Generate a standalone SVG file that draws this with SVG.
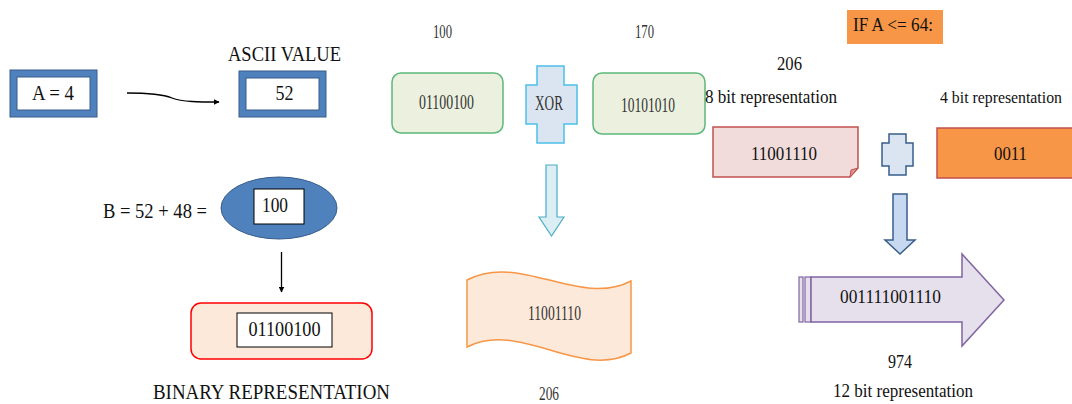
<svg xmlns="http://www.w3.org/2000/svg" width="1072" height="404" viewBox="0 0 1072 404">
<defs>
<style>
text{font-family:"Liberation Serif","Times New Roman",serif;fill:#111;}
.m{text-anchor:middle;}
.g{fill:#333;}
.frame{fill:#4f81bd;stroke:#385d8a;stroke-width:1;}
.inner{fill:#fff;stroke:#385d8a;stroke-width:1;}
.box{fill:#fff;stroke:#000;stroke-width:1;}
.green{fill:#ebf1de;stroke:#5cb87a;stroke-width:1.5;}
.line{fill:none;stroke:#000;stroke-width:1.3;}
</style>
<marker id="ah" viewBox="0 0 10 10" refX="9" refY="5" markerWidth="6" markerHeight="6" orient="auto" markerUnits="userSpaceOnUse">
<path d="M0,0 L10,5 L0,10 Z" fill="#000"/>
</marker>
</defs>
<rect width="1072" height="404" fill="#fff"/>

<g id="connectors">
<path class="line" d="M127,93 C150,93 162,94 172,98 C182,102 200,102 219,102" marker-end="url(#ah)"/>
<line class="line" x1="281.5" y1="252" x2="281.5" y2="292" marker-end="url(#ah)"/>
<polygon points="546,165 557,165 557,217 564,217 551.5,236 539,217 546,217" fill="#daeef3" stroke="#4bacc6" stroke-width="1.2"/>
<polygon points="893,194 907,194 907,240 915,240 900,254 885,240 893,240" fill="#c6d9f1" stroke="#385d8a" stroke-width="1.5"/>
</g>

<g id="ascii-label"><text class="m" x="284.5" y="61" font-size="21" textLength="113" lengthAdjust="spacingAndGlyphs">ASCII VALUE</text></g>

<g id="node-a">
<rect class="frame" x="10" y="70" width="87" height="47"/>
<rect class="inner" x="17" y="77" width="73" height="33"/>
<text class="m" x="53" y="100" font-size="21" textLength="42" lengthAdjust="spacingAndGlyphs">A = 4</text>
</g>

<g id="node-52">
<rect class="frame" x="239" y="71" width="87" height="46"/>
<rect class="inner" x="246" y="78" width="73" height="32"/>
<text class="m" x="284.5" y="100" font-size="21" textLength="18" lengthAdjust="spacingAndGlyphs">52</text>
</g>

<g id="label-b"><text x="103" y="218" font-size="21" textLength="104" lengthAdjust="spacingAndGlyphs">B = 52 + 48 =</text></g>

<g id="node-100">
<ellipse cx="279" cy="208" rx="58" ry="31" fill="#4f81bd" stroke="#385d8a" stroke-width="1"/>
<rect class="box" x="254" y="189" width="50" height="35"/>
<text x="262" y="212" font-size="21" textLength="26" lengthAdjust="spacingAndGlyphs">100</text>
</g>

<g id="node-binary">
<rect x="191" y="303" width="181" height="56" rx="10" fill="#fde9d9" stroke="#ff0000" stroke-width="1.5"/>
<rect class="box" x="237" y="313" width="95" height="34"/>
<text class="m" x="284.5" y="336" font-size="21" textLength="72" lengthAdjust="spacingAndGlyphs">01100100</text>
</g>

<g id="binary-label"><text x="153" y="399" font-size="21" textLength="237" lengthAdjust="spacingAndGlyphs">BINARY REPRESENTATION</text></g>

<g id="label-100"><text class="m g" x="442.5" y="38" font-size="18" textLength="19" lengthAdjust="spacingAndGlyphs">100</text></g>
<g id="label-170"><text class="m g" x="644.5" y="38" font-size="18" textLength="19" lengthAdjust="spacingAndGlyphs">170</text></g>

<g id="node-left-bits">
<rect class="green" x="392" y="73" width="111" height="60" rx="9"/>
<text class="m g" x="446.5" y="109" font-size="22" textLength="55" lengthAdjust="spacingAndGlyphs">01100100</text>
</g>

<g id="node-xor">
<polygon points="537,66 564,66 564,85 577,85 577,124 564,124 564,143 537,143 537,124 526,124 526,85 537,85" fill="#dbe5f1" stroke="#4bc0e8" stroke-width="1.5"/>
<text class="m g" x="549" y="110" font-size="22" textLength="28" lengthAdjust="spacingAndGlyphs">XOR</text>
</g>

<g id="node-right-bits">
<rect class="green" x="593" y="73" width="112" height="61" rx="9"/>
<text class="m g" x="648" y="112" font-size="22" textLength="54" lengthAdjust="spacingAndGlyphs">10101010</text>
</g>

<g id="node-xor-result">
<path d="M467,280 C520,252 580,308 631,281 L631,353 C580,380 520,320 467,347 Z" fill="#fde9d9" stroke="#f79646" stroke-width="1.5"/>
<text class="m g" x="554.5" y="320" font-size="21" textLength="53" lengthAdjust="spacingAndGlyphs">11001110</text>
</g>

<g id="label-206-bottom"><text class="m g" x="549" y="400" font-size="19" textLength="20" lengthAdjust="spacingAndGlyphs">206</text></g>

<g id="node-condition">
<rect x="847" y="10" width="96" height="34" fill="#f79646"/>
<text x="853" y="31" font-size="19" textLength="80" lengthAdjust="spacingAndGlyphs">IF A &lt;= 64:</text>
</g>

<g id="label-206"><text class="m" x="789.5" y="70" font-size="18" textLength="25" lengthAdjust="spacingAndGlyphs">206</text></g>
<g id="label-8bit"><text x="705" y="103" font-size="18" textLength="132" lengthAdjust="spacingAndGlyphs">8 bit representation</text></g>
<g id="label-4bit"><text x="940" y="103" font-size="15.8">4 bit representation</text></g>

<g id="node-8bit">
<path d="M713,127 H858 V168 L850,177 H713 Z" fill="#f2dcdb" stroke="#c0504d" stroke-width="1.5"/>
<path d="M858,168 L851,170 L850,177 Z" fill="#d99694" stroke="#c0504d" stroke-width="1"/>
<text class="m" x="784" y="160" font-size="19" textLength="66" lengthAdjust="spacingAndGlyphs">11001110</text>
</g>

<g id="node-plus">
<polygon points="889,134 906,134 906,143 913,143 913,166 906,166 906,175 889,175 889,166 882,166 882,143 889,143" fill="#dbe5f1" stroke="#385d8a" stroke-width="1.5"/>
</g>

<g id="node-4bit">
<rect x="937" y="128" width="140" height="50" fill="#f79646" stroke="#c0504d" stroke-width="1.5"/>
<text class="m" x="1010.5" y="160" font-size="19" textLength="33" lengthAdjust="spacingAndGlyphs">0011</text>
</g>

<g id="node-12bit">
<rect x="799" y="277" width="4" height="45" fill="#e5e0ec" stroke="#8064a2" stroke-width="1.2"/>
<rect x="805" y="277" width="6" height="45" fill="#e5e0ec" stroke="#8064a2" stroke-width="1.2"/>
<polygon points="811,277 962,277 962,254 1004,300 962,346 962,322 811,322" fill="#e5e0ec" stroke="#8064a2" stroke-width="1.5"/>
<text class="m" x="890.5" y="303" font-size="18" textLength="101" lengthAdjust="spacingAndGlyphs">001111001110</text>
</g>

<g id="label-974"><text class="m" x="900" y="368" font-size="18" textLength="24" lengthAdjust="spacingAndGlyphs">974</text></g>
<g id="label-12bit"><text x="833" y="397" font-size="18" textLength="140" lengthAdjust="spacingAndGlyphs">12 bit representation</text></g>
</svg>
